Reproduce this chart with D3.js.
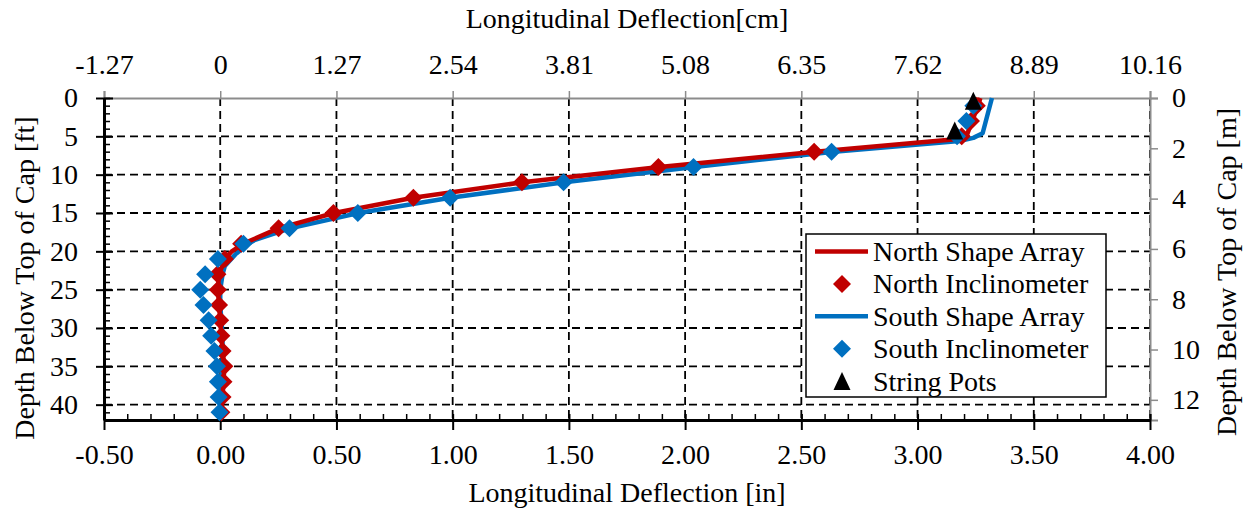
<!DOCTYPE html>
<html>
<head>
<meta charset="utf-8">
<script src="https://cdn.jsdelivr.net/npm/d3@7"></script>
<style>
  html, body { margin: 0; padding: 0; background: #fff; }
  svg { display: block; }
  text { font-family: "Liberation Serif", "Times New Roman", serif; fill: #000; }
</style>
</head>
<body>
<svg id="chart" width="1255" height="512"></svg>
<script>
// ---------------- DATA ----------------
const inclDepthFt = [1,3,5,7,9,11,13,15,17,19,21,23,25,27,29,31,33,35,37,39,41];
const northInclIn = [3.255,3.23,3.19,2.555,1.885,1.298,0.831,0.487,0.251,0.09,0.02,-0.012,-0.01,-0.005,0.0,0.005,0.01,0.018,0.014,0.01,0.005];
const southInclIn = [3.24,3.21,3.17,2.63,2.036,1.477,0.989,0.592,0.298,0.10,-0.01,-0.065,-0.086,-0.072,-0.05,-0.039,-0.025,-0.014,-0.01,-0.007,-0.003];

const northShapeDepthFt = [0,1,3,5,5.4,7,9,11,13,15,17,19,20,21,23,25,27,29,31,33,35,37,39,41];
const northShapeIn      = [3.27,3.26,3.235,3.21,3.15,2.56,1.89,1.30,0.83,0.49,0.25,0.10,0.05,0.02,-0.005,-0.01,-0.005,0.0,0.005,0.01,0.018,0.014,0.01,0.005];

const southShapeDepthFt = [0,4.6,5.2,5.6,7,9,11,13,15,17,18.5,19,20.4,21.9,23,25,27,29,31,33,35,37,39,41];
const southShapeIn      = [3.32,3.28,3.24,3.18,2.64,2.04,1.48,0.99,0.595,0.30,0.15,0.12,0.065,0.02,0.01,0.0,0.0,0.005,0.01,0.01,0.01,0.005,0.0,0.0];

const stringPotDepthFt = [0.35,4.25];
const stringPotIn      = [3.24,3.16];

const xTicksIn  = [-0.5,0,0.5,1,1.5,2,2.5,3,3.5,4];
const xTickLabelsCm = ["-1.27","0","1.27","2.54","3.81","5.08","6.35","7.62","8.89","10.16"];
const yTicksFt  = [0,5,10,15,20,25,30,35,40];
const yTicksM   = [0,2,4,6,8,10,12];

const legendLabels = ["North Shape Array","North Inclinometer","South Shape Array","South Inclinometer","String Pots"];

// ---------------- LAYOUT ----------------
const RED = "#C00000", BLUE = "#0070C0", GRAY = "#8c8c8c";
const L = 104, R = 1150, T = 98, B = 420;
const FS = 28;

const svg = d3.select("#chart");
const x = d3.scaleLinear().domain([-0.5, 4]).range([L, R]);
const y = d3.scaleLinear().domain([0, 42]).range([T, B]);
const yM = d3.scaleLinear().domain([0, 42 * 0.3048]).range([T, B]);

// gridlines
const grid = svg.append("g").attr("stroke", "#000").attr("stroke-width", 1.8).attr("stroke-dasharray", "8,5");
xTicksIn.filter(v => v > -0.5).forEach(v => {
  grid.append("line").attr("x1", x(v)).attr("x2", x(v)).attr("y1", T).attr("y2", B);
});
yTicksFt.filter(v => v > 0).forEach(v => {
  grid.append("line").attr("x1", L).attr("x2", R).attr("y1", y(v)).attr("y2", y(v));
});

// top axis (cm) - gray
const topAxis = svg.append("g").attr("transform", `translate(0,${T})`)
  .call(d3.axisTop(x).tickValues(xTicksIn).tickSize(7).tickPadding(17)
        .tickFormat((d, i) => xTickLabelsCm[i]));
topAxis.select(".domain").attr("stroke", GRAY).attr("stroke-width", 2);
topAxis.selectAll(".tick line").attr("stroke", GRAY).attr("stroke-width", 1.5);
topAxis.selectAll("text").attr("font-size", FS).attr("font-family", "Liberation Serif");

// right axis (m) - gray
const rightAxis = svg.append("g").attr("transform", `translate(${R},0)`)
  .call(d3.axisRight(yM).tickValues(yTicksM).tickSize(8).tickPadding(14).tickFormat(d => String(d)));
rightAxis.select(".domain").attr("stroke", GRAY).attr("stroke-width", 2);
rightAxis.selectAll(".tick line").attr("stroke", GRAY).attr("stroke-width", 1.5);
rightAxis.selectAll("text").attr("font-size", FS).attr("font-family", "Liberation Serif");

// bottom axis (in) - black with crossing majors and inside minors
const bottomAxis = svg.append("g").attr("transform", `translate(0,${B})`)
  .call(d3.axisBottom(x).tickValues(xTicksIn).tickSize(10).tickPadding(14).tickSizeOuter(0)
        .tickFormat(d => d.toFixed(2)));
bottomAxis.select(".domain").attr("stroke", "#000").attr("stroke-width", 3);
bottomAxis.selectAll(".tick line").attr("stroke", "#000").attr("stroke-width", 2);
bottomAxis.selectAll("text").attr("font-size", FS).attr("font-family", "Liberation Serif");
const bottomIn = svg.append("g").attr("transform", `translate(0,${B})`)
  .call(d3.axisBottom(x).tickValues(xTicksIn).tickSize(-6).tickFormat(""));
bottomIn.select(".domain").remove();
bottomIn.selectAll("line").attr("stroke", "#000").attr("stroke-width", 2);
const bottomMinor = svg.append("g").attr("transform", `translate(0,${B})`)
  .call(d3.axisBottom(x).tickValues(d3.range(-5, 41).map(v => v / 10)).tickSize(-6).tickFormat(""));
bottomMinor.select(".domain").remove();
bottomMinor.selectAll("line").attr("stroke", "#000").attr("stroke-width", 1.5);

// left axis (ft)
const leftAxis = svg.append("g").attr("transform", `translate(${L},0)`)
  .call(d3.axisLeft(y).tickValues(yTicksFt).tickSize(8).tickPadding(18).tickSizeOuter(0).tickFormat(d => String(d)));
leftAxis.select(".domain").attr("stroke", "#000").attr("stroke-width", 3);
leftAxis.selectAll(".tick line").attr("stroke", "#000").attr("stroke-width", 2);
leftAxis.selectAll("text").attr("font-size", FS).attr("font-family", "Liberation Serif");
const leftIn = svg.append("g").attr("transform", `translate(${L},0)`)
  .call(d3.axisLeft(y).tickValues(yTicksFt).tickSize(-9).tickFormat(""));
leftIn.select(".domain").remove();
leftIn.selectAll("line").attr("stroke", "#000").attr("stroke-width", 2);
const leftMinor = svg.append("g").attr("transform", `translate(${L},0)`)
  .call(d3.axisLeft(y).tickValues(d3.range(0, 43)).tickSize(-6).tickFormat(""));
leftMinor.select(".domain").remove();
leftMinor.selectAll("line").attr("stroke", "#000").attr("stroke-width", 1.5);

// axis titles
svg.append("text").attr("x", (L + R) / 2).attr("y", 28).attr("text-anchor", "middle")
  .attr("font-size", FS).text("Longitudinal Deflection[cm]");
svg.append("text").attr("x", (L + R) / 2).attr("y", 502).attr("text-anchor", "middle")
  .attr("font-size", FS).text("Longitudinal Deflection [in]");
svg.append("text").attr("transform", "translate(34,278) rotate(-90)").attr("text-anchor", "middle")
  .attr("font-size", FS).text("Depth Below Top of Cap [ft]");
svg.append("text").attr("transform", "translate(1236,272) rotate(-90)").attr("text-anchor", "middle")
  .attr("font-size", FS).text("Depth Below Top of Cap [m]");

// ---------------- SERIES ----------------
const line = d3.line().x(d => x(d[1])).y(d => y(d[0]));
const diamond = "M0,-9L9,0L0,9L-9,0Z";
const triangle = "M0,-9L8.5,9L-8.5,9Z";

const plot = svg.append("g");
plot.append("path").datum(d3.zip(southShapeDepthFt, southShapeIn))
  .attr("d", line).attr("fill", "none").attr("stroke", BLUE).attr("stroke-width", 4.5).attr("stroke-linejoin", "round");
plot.append("path").datum(d3.zip(northShapeDepthFt, northShapeIn))
  .attr("d", line).attr("fill", "none").attr("stroke", RED).attr("stroke-width", 4.5).attr("stroke-linejoin", "round");

plot.selectAll(".ni").data(d3.zip(inclDepthFt, northInclIn)).join("path")
  .attr("d", diamond).attr("fill", RED)
  .attr("transform", d => `translate(${x(d[1])},${y(d[0])})`);
plot.selectAll(".si").data(d3.zip(inclDepthFt, southInclIn)).join("path")
  .attr("d", diamond).attr("fill", BLUE)
  .attr("transform", d => `translate(${x(d[1])},${y(d[0])})`);
plot.selectAll(".sp").data(d3.zip(stringPotDepthFt, stringPotIn)).join("path")
  .attr("d", triangle).attr("fill", "#000")
  .attr("transform", d => `translate(${x(d[1])},${y(d[0])})`);

// ---------------- LEGEND ----------------
const lg = svg.append("g");
lg.append("rect").attr("x", 806).attr("y", 234).attr("width", 300).attr("height", 163)
  .attr("fill", "#fff").attr("stroke", "#000").attr("stroke-width", 1.5);
const rowY = i => 251.5 + i * 32.4;
const kinds = [
  {type: "line", color: RED}, {type: "diamond", color: RED},
  {type: "line", color: BLUE}, {type: "diamond", color: BLUE},
  {type: "triangle", color: "#000"}
];
kinds.forEach((k, i) => {
  const cy = rowY(i);
  if (k.type === "line") {
    lg.append("line").attr("x1", 815).attr("x2", 868).attr("y1", cy).attr("y2", cy)
      .attr("stroke", k.color).attr("stroke-width", 4.5);
  } else {
    lg.append("path").attr("d", k.type === "diamond" ? diamond : triangle).attr("fill", k.color)
      .attr("transform", `translate(842,${cy})`);
  }
  lg.append("text").attr("x", 873).attr("y", cy).attr("dy", "0.34em")
    .attr("font-size", FS).text(legendLabels[i]);
});
</script>
</body>
</html>
